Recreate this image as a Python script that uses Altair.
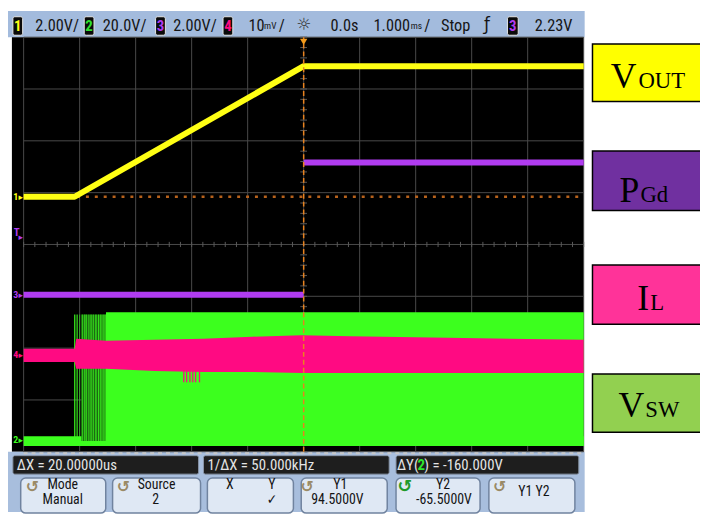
import altair as alt
import pandas as pd

# ---------------- trace data, in screen divisions ----------------
# x: -5 .. 5 divisions around the trigger point, y: -4 .. 4 divisions
vout_t = [-5.0, -4.09, 0.0, 5.0]
vout_v = [0.92, 0.92, 3.44, 3.44]

pgd_t = [-5.0, 0.0, 0.0, 5.0]
pgd_v = [-0.97, -0.97, 1.58, 1.58]
pgd_seg = ["low", "low", "high", "high"]

il_t = [-5.0, -4.09, -4.06, -3.53, -2.66, -1.79, -0.92, -0.04, 0.83, 2.57, 5.0]
il_hi = [-2.01, -2.01, -1.82, -1.86, -1.84, -1.82, -1.78, -1.75, -1.77, -1.80, -1.84]
il_lo = [-2.27, -2.27, -2.40, -2.40, -2.44, -2.46, -2.46, -2.48, -2.48, -2.48, -2.48]

vsw_t0 = [-5.0, -3.53]
vsw_t1 = [5.0, 5.0]
vsw_hi = [-3.70, -1.31]
vsw_lo = [-3.89, -3.89]

burst_t = [-4.087, -4.045, -4.0, -3.953, -3.913, -3.883, -3.836, -3.796,
           -3.756, -3.709, -3.661, -3.621, -3.581, -3.546]
burst_op = [1.0, 0.9, 0.5, 0.7, 0.6, 0.8, 0.6, 0.8, 0.7, 0.9, 0.8, 0.9, 0.8, 0.9]
burst_hi = [-1.35] * len(burst_t)
burst_lo = [-3.79] * len(burst_t)
burst_shade_t = [-3.97, -3.53]

spike_t = [-2.14, -2.09, -2.03, -1.98, -1.93, -1.86]
spike_hi = [-2.44] * len(spike_t)
spike_lo = [-2.66] * len(spike_t)

trig_level = [0.92]
trig_time = [0.0]

grid_x = [-5, -4, -3, -2, -1, 0, 1, 2, 3, 4, 5]
grid_y = [-4, -3, -2, -1, 0, 1, 2, 3, 4]
minor_x = [i / 5 for i in range(-25, 26)]
minor_y = [i / 5 for i in range(-20, 21)]

# ---------------- text content ----------------
top_labels = ["2.00V/", "20.0V/", "2.00V/", "10", "/", "0.0s", "1.000", "/", "Stop", "2.23V"]
top_units = ["mV", "ms"]
chan_box_digits = ["1", "2", "3", "4", "3"]
status_texts = ["\u0394X = 20.00000us", "1/\u0394X = 50.000kHz", "\u0394Y(", ") = -160.000V"]
button_texts = ["Mode", "Manual", "Source", "2", "X", "Y", "\u2713", "Y1", "94.5000V",
                "Y2", "-65.5000V", "Y1 Y2"]
sig_main = ["V", "P", "I", "V"]
sig_sub = ["OUT", "Gd", "L", "SW"]

# ---------------- layout (reference pixels) & styles ----------------
SX = 700 / 708
SY = 507 / 515
XS = alt.Scale(domain=[-5, 5], range=[16 * SX, 589 * SX], nice=False, zero=False)
YS = alt.Scale(domain=[-4, 4], range=[453 * SY, 27 * SY], nice=False, zero=False)
PX = alt.Scale(domain=[0, 708], range=[0, 700], nice=False, zero=False)
PY = alt.Scale(domain=[0, 515], range=[0, 507], nice=False, zero=False)

NARROW = "Liberation Sans Narrow, Roboto Condensed, DejaVu Sans Condensed, Liberation Sans, sans-serif"
SERIF = "Liberation Serif, Times New Roman, serif"

YEL = "#ffff14"
PUR = "#b03cf0"
PNK = "#ff0a82"
GRN = "#3cff1e"
ORG = "#e8821e"

layers = []


def rects(rows, radius=0):
    df = pd.DataFrame(rows, columns=["x", "x2", "y", "y2", "f", "st", "sw"])
    return alt.Chart(df).mark_rect(cornerRadius=radius).encode(
        x=alt.X("x:Q", scale=PX, axis=None), x2="x2:Q",
        y=alt.Y("y:Q", scale=PY, axis=None), y2="y2:Q",
        fill=alt.Fill("f:N", scale=None),
        stroke=alt.Stroke("st:N", scale=None),
        strokeWidth=alt.StrokeWidth("sw:Q", scale=None),
    )


def texts(rows, font, align="left", baseline="middle", weight="normal"):
    df = pd.DataFrame(rows, columns=["t", "x", "y", "c", "s"])
    return alt.Chart(df).mark_text(font=font, align=align, baseline=baseline,
                                   fontWeight=weight).encode(
        x=alt.X("x:Q", scale=PX, axis=None),
        y=alt.Y("y:Q", scale=PY, axis=None),
        text="t:N",
        color=alt.Color("c:N", scale=None),
        size=alt.Size("s:Q", scale=None),
    )


# backgrounds
layers.append(rects([
    (0, 590, 0, 27, "#a3bbdd", "transparent", 0),
    (4, 589, 27, 453, "#000000", "transparent", 0),
    (0, 590, 453, 515, "#a8bedd", "transparent", 0),
]))

# graticule
gx = pd.DataFrame({"t": grid_x})
layers.append(alt.Chart(gx).mark_rule(color="#4a4a4a", strokeWidth=1).encode(
    x=alt.X("t:Q", scale=XS, axis=None),
    y=alt.Y("a:Q", scale=YS, axis=None), y2="b:Q").transform_calculate(a="-4", b="4"))
gy = pd.DataFrame({"v": grid_y})
layers.append(alt.Chart(gy).mark_rule(color="#4a4a4a", strokeWidth=1).encode(
    y=alt.Y("v:Q", scale=YS, axis=None),
    x=alt.X("a:Q", scale=XS, axis=None), x2="b:Q").transform_calculate(a="-5", b="5"))
mx = pd.DataFrame({"t": minor_x})
layers.append(alt.Chart(mx).mark_rule(color="#5a5a5a", strokeWidth=1).encode(
    x=alt.X("t:Q", scale=XS, axis=None),
    y=alt.Y("a:Q", scale=YS, axis=None), y2="b:Q").transform_calculate(a="-0.05", b="0.05"))
my = pd.DataFrame({"v": minor_y})
layers.append(alt.Chart(my).mark_rule(color="#5a5a5a", strokeWidth=1).encode(
    y=alt.Y("v:Q", scale=YS, axis=None),
    x=alt.X("a:Q", scale=XS, axis=None), x2="b:Q").transform_calculate(a="-0.06", b="0.06"))

# trigger level (dotted orange)
tl = pd.DataFrame({"v": trig_level})
layers.append(alt.Chart(tl).mark_rule(color="#b8621c", strokeWidth=2.5, strokeDash=[3, 6]).encode(
    y=alt.Y("v:Q", scale=YS, axis=None),
    x=alt.X("a:Q", scale=XS, axis=None), x2="b:Q").transform_calculate(a="-5", b="5"))

# VSW (green)
vsw = pd.DataFrame({"t0": vsw_t0, "t1": vsw_t1, "hi": vsw_hi, "lo": vsw_lo})
layers.append(alt.Chart(vsw).mark_rect(color=GRN).encode(
    x=alt.X("t0:Q", scale=XS, axis=None), x2="t1:Q",
    y=alt.Y("hi:Q", scale=YS, axis=None), y2="lo:Q"))
shade = pd.DataFrame({"t0": [burst_shade_t[0]], "t1": [burst_shade_t[1]],
                      "hi": [burst_hi[0]], "lo": [burst_lo[0]]})
layers.append(alt.Chart(shade).mark_rect(color="#1c6a12").encode(
    x=alt.X("t0:Q", scale=XS, axis=None), x2="t1:Q",
    y=alt.Y("hi:Q", scale=YS, axis=None), y2="lo:Q"))
burst = pd.DataFrame({"t": burst_t, "hi": burst_hi, "lo": burst_lo, "op": burst_op})
layers.append(alt.Chart(burst).mark_rule(color=GRN, strokeWidth=1.2).encode(
    x=alt.X("t:Q", scale=XS, axis=None),
    y=alt.Y("hi:Q", scale=YS, axis=None), y2="lo:Q",
    opacity=alt.Opacity("op:Q", scale=None)))

# IL (pink)
il = pd.DataFrame({"t": il_t, "hi": il_hi, "lo": il_lo})
layers.append(alt.Chart(il).mark_area(color=PNK, opacity=1).encode(
    x=alt.X("t:Q", scale=XS, axis=None),
    y=alt.Y("hi:Q", scale=YS, axis=None), y2="lo:Q"))
sp = pd.DataFrame({"t": spike_t, "hi": spike_hi, "lo": spike_lo})
layers.append(alt.Chart(sp).mark_rule(color=PNK, strokeWidth=1.3).encode(
    x=alt.X("t:Q", scale=XS, axis=None),
    y=alt.Y("hi:Q", scale=YS, axis=None), y2="lo:Q"))

# VOUT (yellow)
vo = pd.DataFrame({"t": vout_t, "v": vout_v})
layers.append(alt.Chart(vo).mark_line(color=YEL, strokeWidth=6, strokeJoin="round").encode(
    x=alt.X("t:Q", scale=XS, axis=None),
    y=alt.Y("v:Q", scale=YS, axis=None)))

# PGd (purple)
pg = pd.DataFrame({"t": pgd_t, "v": pgd_v, "seg": pgd_seg})
layers.append(alt.Chart(pg).mark_line(color=PUR, strokeWidth=6).encode(
    x=alt.X("t:Q", scale=XS, axis=None),
    y=alt.Y("v:Q", scale=YS, axis=None),
    detail="seg:N"))

# trigger time marker (dashed orange) and top triangle
tt = pd.DataFrame({"t": trig_time})
layers.append(alt.Chart(tt).mark_rule(color=ORG, strokeWidth=1.5, strokeDash=[5, 3]).encode(
    x=alt.X("t:Q", scale=XS, axis=None),
    y=alt.Y("a:Q", scale=YS, axis=None), y2="b:Q").transform_calculate(a="-4", b="4"))
layers.append(alt.Chart(tt).mark_point(shape="triangle-down", filled=True, size=55,
                                         color="#f29a1c", opacity=1).encode(
    x=alt.X("t:Q", scale=XS, axis=None),
    y=alt.Y("a:Q", scale=YS, axis=None)).transform_calculate(a="3.91"))

# bottom edge of the screen
layers.append(alt.Chart(tt).mark_rule(color="#c8c8c8", strokeWidth=2, strokeDash=[4, 4]).encode(
    y=alt.Y("a:Q", scale=YS, axis=None),
    x=alt.X("b:Q", scale=XS, axis=None), x2="c:Q").transform_calculate(a="-4.03", b="-5", c="5"))

# channel markers on the left edge
layers.append(texts([
    ("1", 8, 191, YEL, 10), ("T", 9, 228, PUR, 11), ("3", 8, 292, PUR, 10),
    ("4", 8, 354, PNK, 10), ("2", 8, 441, GRN, 10),
], NARROW, align="center", weight="bold"))
layers.append(texts([
    ("\u25b8", 13, 191, YEL, 9), ("\u25b8", 13, 232, PUR, 9), ("\u25b8", 13, 292, PUR, 9),
    ("\u25b8", 13, 354, PNK, 9), ("\u25b8", 13, 441, GRN, 9),
], "DejaVu Sans", align="center"))

# ---- top status bar ----
layers.append(rects([
    (5, 15, 6, 25, "#0a0a0a", "#e6e6e6", 1),
    (78, 88, 6, 25, "#0a0a0a", "#e6e6e6", 1),
    (151, 161, 6, 25, "#0a0a0a", "#e6e6e6", 1),
    (220, 230, 6, 25, "#0a0a0a", "#e6e6e6", 1),
    (511, 522, 6, 25, "#0a0a0a", "#e6e6e6", 1),
], radius=2))
box_x = [10, 83, 156, 225, 516.5]
box_c = [YEL, "#30e030", PUR, PNK, PUR]
layers.append(texts([(d, x, 16, c, 15) for d, x, c in zip(chan_box_digits, box_x, box_c)],
                    NARROW, align="center", weight="bold"))
top_x = [28, 97, 169, 246, 277, 330, 374, 426, 443, 539]
layers.append(texts([(t, x, 16, "#151515", 16.5) for t, x in zip(top_labels, top_x)], NARROW))
layers.append(texts([(t, x, 16, "#151515", 9.5) for t, x in zip(top_units, [262, 412])], NARROW))
layers.append(texts([("\u263c", 303, 15, "#303030", 17), ("\u0192", 490, 15, "#151515", 17)],
                    "DejaVu Sans", align="center"))

# ---- bottom softkey panel ----
layers.append(rects([
    (5, 195, 457, 476, "#1e1e1e", "#8a96a8", 1),
    (200, 390, 457, 476, "#1e1e1e", "#8a96a8", 1),
    (397, 584, 457, 476, "#1e1e1e", "#8a96a8", 1),
], radius=2))
layers.append(rects([
    (13, 100, 480, 516, "#dfe8f4", "#70839f", 1.5),
    (107, 197, 480, 516, "#dfe8f4", "#70839f", 1.5),
    (204, 292, 480, 516, "#dfe8f4", "#70839f", 1.5),
    (300, 388, 480, 516, "#dfe8f4", "#70839f", 1.5),
    (397, 483, 480, 516, "#dfe8f4", "#70839f", 1.5),
    (492, 580, 480, 516, "#dfe8f4", "#70839f", 1.5),
], radius=5))
stat_x = [9, 204, 398, 426]
layers.append(texts([(t, x, 466.5, "#e4e4e4", 15) for t, x in zip(status_texts, stat_x)], NARROW))
layers.append(texts([("2", 419, 466.5, "#2ee62e", 15)], NARROW, weight="bold"))
btn_pos = [(56, 487), (56, 502.5), (152, 487), (151, 502.5), (227, 487), (270, 487), (270, 503),
           (340, 487), (337, 502.5), (445, 487), (446, 502.5), (538, 494)]
layers.append(texts([(t, x, y, "#141414", 14) for t, (x, y) in zip(button_texts, btn_pos)],
                    NARROW, align="center"))
layers.append(texts([
    ("\u21ba", 25, 489, "#9a8a66", 16), ("\u21ba", 118, 489, "#9a8a66", 16),
    ("\u21ba", 306, 489, "#9a8a66", 16), ("\u21ba", 406, 489, "#1f9a2a", 18),
    ("\u21ba", 503, 489, "#9a8a66", 16),
], "DejaVu Sans", align="center", weight="bold"))

# ---- signal name boxes on the right ----
layers.append(rects([
    (598, 712, 34, 93, "#ffff00", "#000000", 1.5),
    (598, 712, 144, 205, "#7030a0", "#000000", 1.5),
    (598, 712, 261, 322, "#ff3399", "#000000", 1.5),
    (598, 712, 373, 433, "#92d050", "#000000", 1.5),
]))
main_pos = [(643, 79), (646, 196), (656, 307), (651, 417)]
sub_pos = [(645, 79), (647, 196), (657, 307), (652, 417)]
layers.append(texts([(t, x, y, "#000000", 36) for t, (x, y) in zip(sig_main, main_pos)],
                    SERIF, align="right", baseline="alphabetic"))
layers.append(texts([(t, x, y, "#000000", 23) for t, (x, y) in zip(sig_sub, sub_pos)],
                    SERIF, align="left", baseline="alphabetic"))

chart = alt.layer(*layers).resolve_scale(
    x="independent", y="independent"
).properties(
    width=700, height=507, padding=0,
    autosize=alt.AutoSizeParams(type="none"),
    background="#ffffff",
).configure_view(strokeWidth=0)

chart.save("out.html", embed_options={"renderer": "svg", "actions": False})
